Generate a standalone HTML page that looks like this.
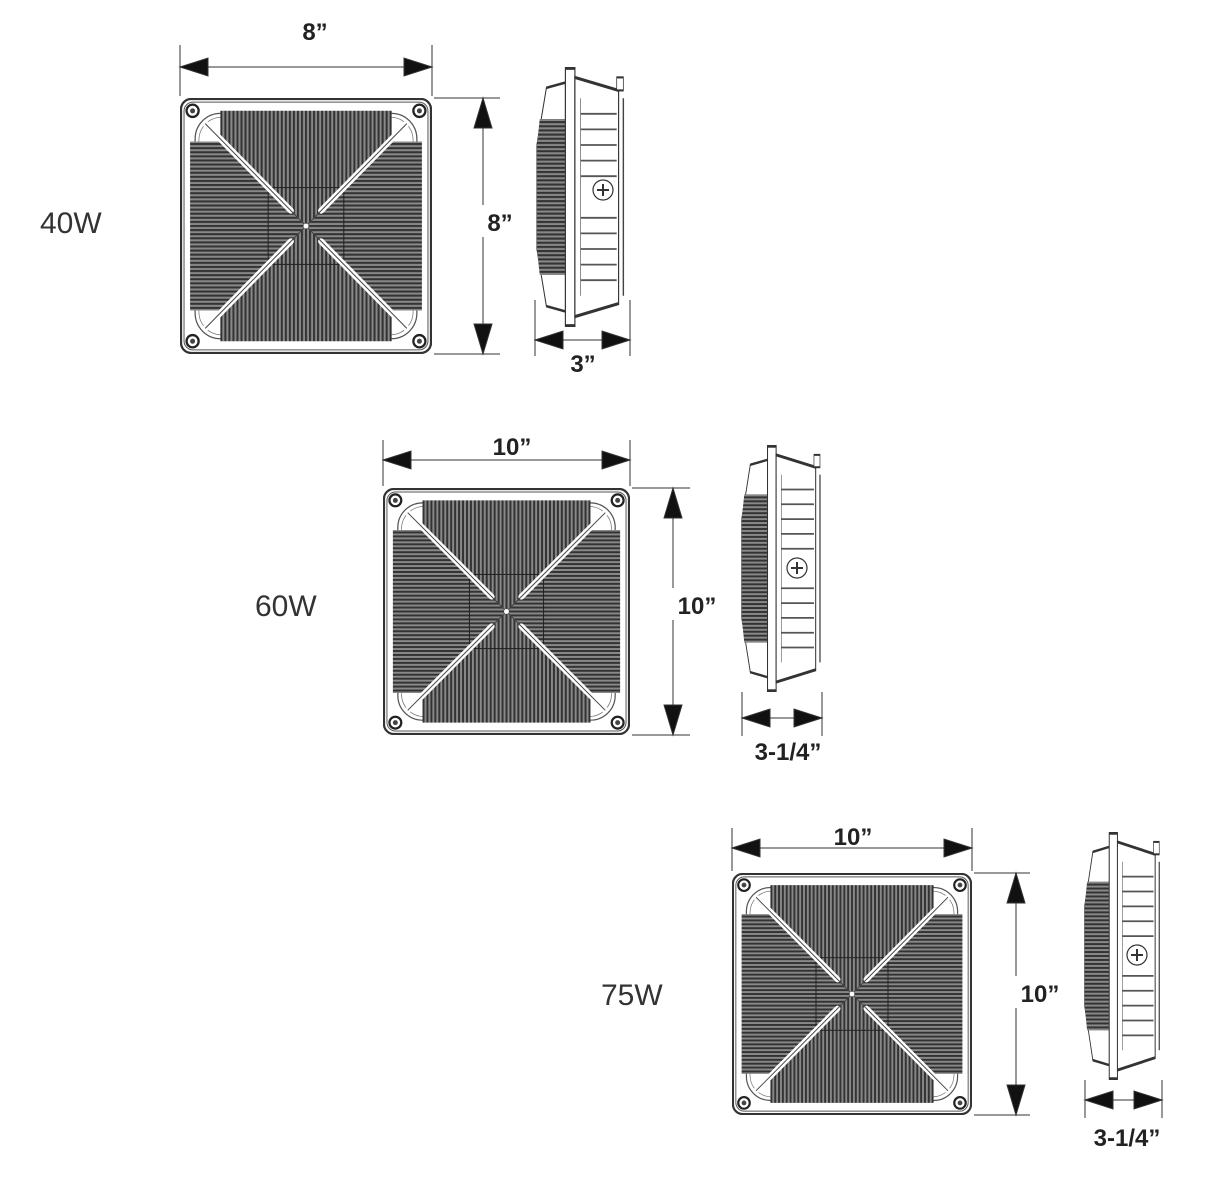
<!DOCTYPE html>
<html><head><meta charset="utf-8"><style>
html,body{margin:0;padding:0;background:#fff}
svg{display:block}
.d{font-family:"Liberation Sans",sans-serif;font-weight:bold;font-size:24px;fill:#222}
.w{font-family:"Liberation Sans",sans-serif;font-size:30px;fill:#333}
</style></head><body>
<svg width="1205" height="1200" viewBox="0 0 1205 1200" xmlns="http://www.w3.org/2000/svg">
<defs>
<pattern id="vs" width="1.6" height="10" patternUnits="userSpaceOnUse">
<rect width="1.6" height="10" fill="#888"/><rect width="0.8" height="10" fill="#333"/></pattern>
<pattern id="hs" width="10" height="1.6" patternUnits="userSpaceOnUse">
<rect width="10" height="1.6" fill="#888"/><rect width="10" height="0.8" fill="#333"/></pattern>
<symbol id="front" viewBox="0 0 100 100" preserveAspectRatio="none">
<rect x="0.4" y="0.4" width="99.2" height="99.2" rx="4" fill="#fff" stroke="#333" stroke-width="0.9"/>
<rect x="1.6" y="1.6" width="96.8" height="96.8" rx="3.5" fill="none" stroke="#555" stroke-width="0.4"/>
<rect x="6" y="6" width="88" height="88" rx="10" fill="none" stroke="#555" stroke-width="0.5"/>
<rect x="7.5" y="7.5" width="85" height="85" rx="9" fill="none" stroke="#777" stroke-width="0.3"/>
<polygon points="16,5 84,5 84,17 50,50 16,17" fill="url(#vs)"/>
<polygon points="16,95 84,95 84,83 50,50 16,83" fill="url(#vs)"/>
<polygon points="4,17 16,17 50,50 16,83 4,83" fill="url(#hs)"/>
<polygon points="96,17 84,17 50,50 84,83 96,83" fill="url(#hs)"/>
<rect x="35" y="35" width="30" height="30" fill="none" stroke="#222" stroke-width="0.4"/>
<g stroke="#fff" stroke-width="2.4" stroke-linecap="round">
<line x1="10" y1="10" x2="44" y2="44"/><line x1="90" y1="10" x2="56" y2="44"/>
<line x1="10" y1="90" x2="44" y2="56"/><line x1="90" y1="90" x2="56" y2="56"/></g>
<g stroke="#444" stroke-width="0.4">
<line x1="10" y1="10" x2="50" y2="50"/><line x1="90" y1="10" x2="50" y2="50"/>
<line x1="10" y1="90" x2="50" y2="50"/><line x1="90" y1="90" x2="50" y2="50"/></g>
<circle cx="50" cy="50" r="1" fill="#fff"/>
<g fill="#fff" stroke="#222" stroke-width="0.9">
<circle cx="5" cy="5" r="2.4"/><circle cx="95" cy="5" r="2.4"/><circle cx="5" cy="95" r="2.4"/><circle cx="95" cy="95" r="2.4"/></g>
<g fill="#444"><circle cx="5" cy="5" r="1"/><circle cx="95" cy="5" r="1"/><circle cx="5" cy="95" r="1"/><circle cx="95" cy="95" r="1"/></g>
</symbol>
<symbol id="side" viewBox="0 0 100 100" preserveAspectRatio="none">
<polygon points="12,8 32,6 32,94 12,92 2,70 2,30" fill="#fff" stroke="#333" stroke-width="1"/>
<polygon points="5,20 32,20 32,80 5,80 2,70 2,30" fill="url(#hs)"/>
<rect x="32" y="0.5" width="10" height="99" fill="#fff" stroke="#333" stroke-width="1.2"/>
<polygon points="42,4 88,9 88,91 42,96" fill="#fff" stroke="#333" stroke-width="1.2"/>
<line x1="93" y1="12" x2="93" y2="88" stroke="#444" stroke-width="1.5"/>
<rect x="86" y="4" width="7" height="5" fill="#fff" stroke="#333" stroke-width="0.8"/>
<g stroke="#555" stroke-width="0.7">
<line x1="48" y1="18" x2="86" y2="18"/><line x1="48" y1="24" x2="86" y2="24"/><line x1="48" y1="30" x2="86" y2="30"/>
<line x1="48" y1="36" x2="86" y2="36"/><line x1="48" y1="42" x2="86" y2="42"/>
<line x1="48" y1="58" x2="86" y2="58"/><line x1="48" y1="64" x2="86" y2="64"/><line x1="48" y1="70" x2="86" y2="70"/>
<line x1="48" y1="76" x2="86" y2="76"/><line x1="48" y1="82" x2="86" y2="82"/>
<line x1="48" y1="12" x2="48" y2="88"/></g>
</symbol>
</defs>

<!-- 40W -->
<text class="w" x="40" y="233">40W</text>
<use href="#front" x="180" y="98" width="252" height="256"/>
<g stroke="#333" stroke-width="1" fill="#111">
<line x1="180" y1="45" x2="180" y2="96"/><line x1="432" y1="45" x2="432" y2="96"/>
<line x1="180" y1="67" x2="432" y2="67"/>
<polygon points="180,67 208,58 208,76"/><polygon points="432,67 404,58 404,76"/>
<line x1="434" y1="98" x2="500" y2="98"/><line x1="434" y1="354" x2="500" y2="354"/>
<line x1="483" y1="98" x2="483" y2="354"/>
<polygon points="483,98 474,128 492,128"/><polygon points="483,354 474,324 492,324"/>
</g>
<text class="d" x="315" y="40" text-anchor="middle">8”</text>
<rect x="470" y="205" width="44" height="32" fill="#fff"/>
<text class="d" x="500" y="231" text-anchor="middle">8”</text>
<use href="#side" x="535" y="67" width="95" height="260"/>
<circle cx="603" cy="190" r="10" fill="#fff" stroke="#333" stroke-width="1.2"/>
<path d="M597 190h12M603 184v12" stroke="#333" stroke-width="2"/>
<g stroke="#333" stroke-width="1" fill="#111">
<line x1="535" y1="300" x2="535" y2="356"/><line x1="630" y1="300" x2="630" y2="356"/>
<line x1="535" y1="340" x2="630" y2="340"/>
<polygon points="535,340 563,331 563,349"/><polygon points="630,340 602,331 602,349"/>
</g>
<text class="d" x="583" y="372" text-anchor="middle">3”</text>

<!-- 60W -->
<text class="w" x="255" y="616">60W</text>
<use href="#front" x="383" y="488" width="247" height="247"/>
<g stroke="#333" stroke-width="1" fill="#111">
<line x1="383" y1="440" x2="383" y2="486"/><line x1="630" y1="440" x2="630" y2="486"/>
<line x1="383" y1="460" x2="630" y2="460"/>
<polygon points="383,460 411,451 411,469"/><polygon points="630,460 602,451 602,469"/>
<line x1="632" y1="488" x2="690" y2="488"/><line x1="632" y1="735" x2="690" y2="735"/>
<line x1="673" y1="488" x2="673" y2="735"/>
<polygon points="673,488 664,518 682,518"/><polygon points="673,735 664,705 682,705"/>
</g>
<text class="d" x="512" y="455" text-anchor="middle">10”</text>
<rect x="670" y="588" width="54" height="32" fill="#fff"/>
<text class="d" x="697" y="614" text-anchor="middle">10”</text>
<use href="#side" x="740" y="445" width="86" height="247"/>
<circle cx="797" cy="568" r="10" fill="#fff" stroke="#333" stroke-width="1.2"/>
<path d="M791 568h12M797 562v12" stroke="#333" stroke-width="2"/>
<g stroke="#333" stroke-width="1" fill="#111">
<line x1="742" y1="692" x2="742" y2="736"/><line x1="822" y1="692" x2="822" y2="736"/>
<line x1="742" y1="718" x2="822" y2="718"/>
<polygon points="742,718 770,709 770,727"/><polygon points="822,718 794,709 794,727"/>
</g>
<text class="d" x="788" y="760" text-anchor="middle">3-1/4”</text>

<!-- 75W -->
<text class="w" x="601" y="1005">75W</text>
<use href="#front" x="732" y="873" width="240" height="242"/>
<g stroke="#333" stroke-width="1" fill="#111">
<line x1="732" y1="828" x2="732" y2="871"/><line x1="972" y1="828" x2="972" y2="871"/>
<line x1="732" y1="848" x2="972" y2="848"/>
<polygon points="732,848 760,839 760,857"/><polygon points="972,848 944,839 944,857"/>
<line x1="974" y1="873" x2="1030" y2="873"/><line x1="974" y1="1115" x2="1030" y2="1115"/>
<line x1="1016" y1="873" x2="1016" y2="1115"/>
<polygon points="1016,873 1007,903 1025,903"/><polygon points="1016,1115 1007,1085 1025,1085"/>
</g>
<text class="d" x="853" y="845" text-anchor="middle">10”</text>
<rect x="1013" y="976" width="54" height="32" fill="#fff"/>
<text class="d" x="1040" y="1002" text-anchor="middle">10”</text>
<use href="#side" x="1083" y="832" width="82" height="248"/>
<circle cx="1137" cy="955" r="10" fill="#fff" stroke="#333" stroke-width="1.2"/>
<path d="M1131 955h12M1137 949v12" stroke="#333" stroke-width="2"/>
<g stroke="#333" stroke-width="1" fill="#111">
<line x1="1085" y1="1080" x2="1085" y2="1118"/><line x1="1162" y1="1080" x2="1162" y2="1118"/>
<line x1="1085" y1="1100" x2="1162" y2="1100"/>
<polygon points="1085,1100 1113,1091 1113,1109"/><polygon points="1162,1100 1134,1091 1134,1109"/>
</g>
<text class="d" x="1127" y="1146" text-anchor="middle">3-1/4”</text>
</svg>
</body></html>
